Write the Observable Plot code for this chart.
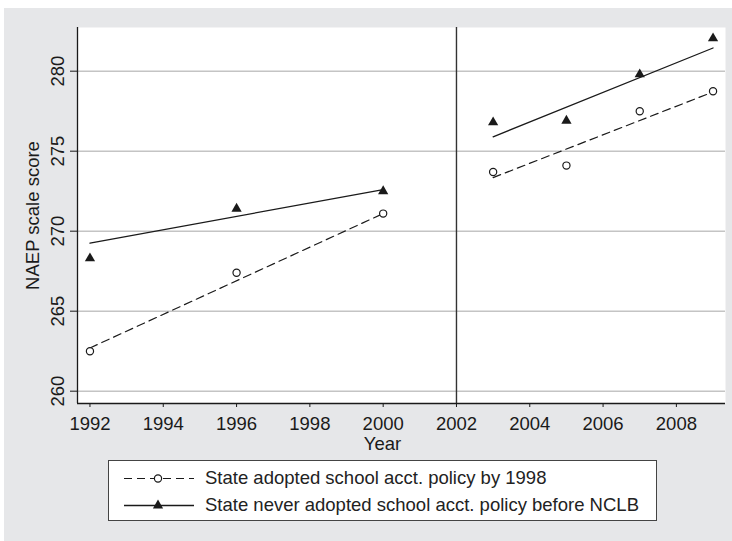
<!DOCTYPE html>
<html>
<head>
<meta charset="utf-8">
<script src="https://cdn.jsdelivr.net/npm/d3@7"></script>
<script src="https://cdn.jsdelivr.net/npm/@observablehq/plot@0.6"></script>
<style>
  html, body { margin: 0; padding: 0; background: #ffffff; }
  body { width: 732px; height: 541px; position: relative; overflow: hidden; font-family: "Liberation Sans", Arial, Helvetica, sans-serif; }
  #bg { position: absolute; left: 4px; top: 8px; width: 728px; height: 533px; background: #e6e7e9; }
  #chart { position: absolute; left: 0; top: 0; }
  #legend { position: absolute; left: 108px; top: 460px; width: 547px; height: 59px; background: #fff; border: 1px solid #444; }
  .row { position: absolute; left: 0; height: 27px; width: 100%; }
  .row svg { position: absolute; left: 0; top: 0; }
  .row span { position: absolute; left: 96px; top: 2px; font-size: 18.5px; line-height: 22px; color: #222; white-space: nowrap; }
</style>
</head>
<body>
<div id="bg"></div>
<div id="chart"></div>
<div id="legend"></div>
<script>
// ---- data ----
const years = [1992, 1996, 2000, 2003, 2005, 2007, 2009];
const adopted = [262.5, 267.4, 271.1, 273.7, 274.1, 277.5, 278.75];
const never = [268.3, 271.4, 272.5, 276.8, 276.9, 279.8, 282.05];
const fitYears = [1992, 2000, 2003, 2009];
const fitPeriod = ["pre", "pre", "post", "post"];
const fitAdopted = [262.7, 271.1, 273.35, 278.7];
const fitNever = [269.25, 272.6, 275.9, 281.45];
const xTicks = [1992, 1994, 1996, 1998, 2000, 2002, 2004, 2006, 2008];
const yTicks = [260, 265, 270, 275, 280];
const nclbYear = [2002];
const seriesLabels = ["State adopted school acct. policy by 1998", "State never adopted school acct. policy before NCLB"];

const xDomain = [1991.66, 2009.34];
const yDomain = [259.23, 282.73];

const pts = years.map((y, i) => ({year: y, adopted: adopted[i], never: never[i]}));
const fits = fitYears.map((y, i) => ({year: y, period: fitPeriod[i], adopted: fitAdopted[i], never: fitNever[i]}));

const ink = "#1a1a1a";
const fs = 18.5;
const plot = Plot.plot({
  width: 732,
  height: 460,
  marginLeft: 77,
  marginRight: 7,
  marginTop: 27,
  marginBottom: 57,
  style: { background: "transparent", fontFamily: "Liberation Sans, Arial, sans-serif", fontSize: fs + "px", color: ink },
  x: { domain: xDomain, axis: null },
  y: { domain: yDomain, axis: null },
  marks: [
    Plot.frame({ fill: "white", stroke: "none" }),
    Plot.gridY(yTicks, { stroke: "#c4c4c4", strokeOpacity: 1, strokeWidth: 1.6 }),
    Plot.ruleX(nclbYear, { stroke: "#333", strokeWidth: 1.4 }),
    Plot.axisX(xTicks, { tickSize: 4, tickPadding: 9, tickFormat: d => String(d), fontSize: fs, stroke: ink, fill: ink, label: null }),
    Plot.axisY(yTicks, { tickSize: 7, tickFormat: () => "", stroke: ink, label: null }),
    Plot.text(yTicks, { y: d => d, frameAnchor: "left", dx: -19, rotate: -90, text: d => String(d), fontSize: fs, fill: ink, textAnchor: "middle", lineAnchor: "middle" }),
    Plot.text(["NAEP scale score"], { frameAnchor: "left", dx: -44, rotate: -90, text: d => d, fontSize: fs, fill: ink, textAnchor: "middle", lineAnchor: "middle" }),
    Plot.text(["Year"], { frameAnchor: "bottom", dx: -19, dy: 41, text: d => d, fontSize: fs, fill: ink, lineAnchor: "middle" }),
    Plot.ruleX([xDomain[0]], { stroke: ink, strokeWidth: 1.3 }),
    Plot.ruleY([yDomain[0]], { stroke: ink, strokeWidth: 1.3 }),
    Plot.line(fits, { x: "year", y: "adopted", z: "period", stroke: ink, strokeWidth: 1.2, strokeDasharray: "8,5" }),
    Plot.line(fits, { x: "year", y: "never", z: "period", stroke: ink, strokeWidth: 1.3 }),
    Plot.dot(pts, { x: "year", y: "adopted", r: 3.6, stroke: ink, strokeWidth: 1.2, fill: "white" }),
    Plot.dot(pts, { x: "year", y: "never", r: 3.8, symbol: "triangle", fill: ink, stroke: "none" })
  ]
});
document.getElementById("chart").appendChild(plot);

// ---- legend ----
const legend = document.getElementById("legend");
seriesLabels.forEach((lab, i) => {
  const row = document.createElement("div");
  row.className = "row";
  row.style.top = (i === 0 ? 4 : 31) + "px";
  const keySvg = i === 0
    ? `<svg width="90" height="27"><line x1="15" x2="85" y1="13.5" y2="13.5" stroke="${ink}" stroke-width="1.2" stroke-dasharray="8,5"/><circle cx="49" cy="13.5" r="3.6" fill="white" stroke="${ink}" stroke-width="1.2"/></svg>`
    : `<svg width="90" height="27"><line x1="15" x2="85" y1="13.5" y2="13.5" stroke="${ink}" stroke-width="1.3"/><path d="${d3.symbol(d3.symbolTriangle, Math.PI * 3.8 * 3.8)()}" transform="translate(49,13.5)" fill="${ink}"/></svg>`;
  row.innerHTML = keySvg + `<span>${lab}</span>`;
  legend.appendChild(row);
});
</script>
</body>
</html>
